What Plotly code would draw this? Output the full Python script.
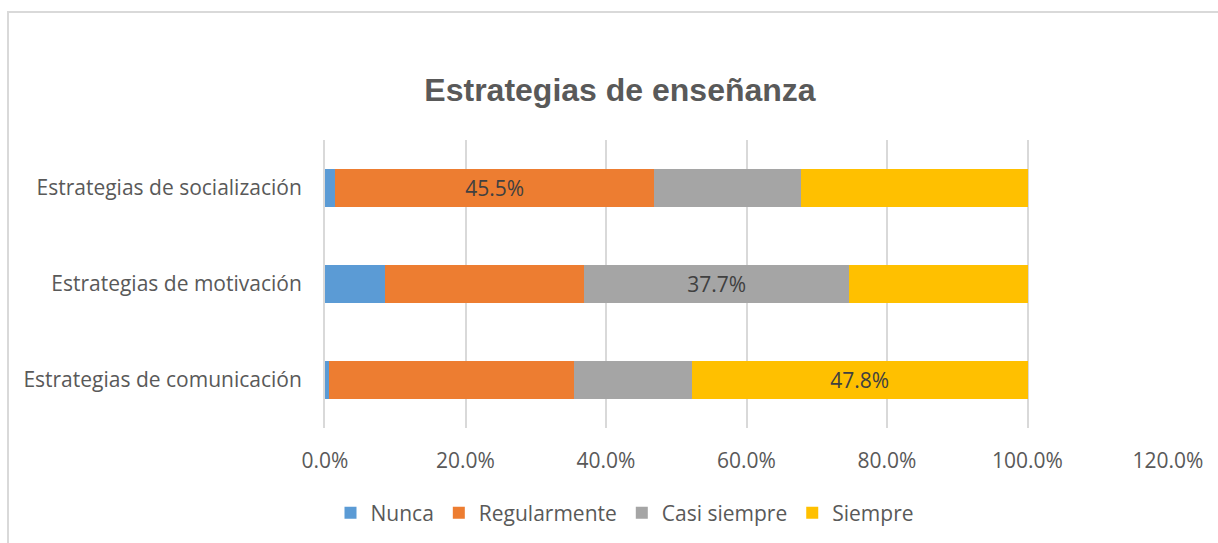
import plotly.graph_objects as go

categories = ["Estrategias de comunicación", "Estrategias de motivación", "Estrategias de socialización"]
series_names = ["Nunca", "Regularmente", "Casi siempre", "Siempre"]
nunca = [0.006, 0.086, 0.014]
regularmente = [0.349, 0.283, 0.455]
casi_siempre = [0.167, 0.377, 0.209]
siempre = [0.478, 0.254, 0.322]
colors = ["#5B9BD5", "#ED7D31", "#A5A5A5", "#FFC000"]
# which label shown per category (index of series)
label_series = [3, 2, 1]
tick_vals = [0, 0.2, 0.4, 0.6, 0.8, 1.0, 1.2]
tick_text = ["0.0%", "20.0%", "40.0%", "60.0%", "80.0%", "100.0%", "120.0%"]

all_vals = [nunca, regularmente, casi_siempre, siempre]

FS = 21

fig = go.Figure()
for si, (name, vals, col) in enumerate(zip(series_names, all_vals, colors)):
    texts = [f"{v*100:.1f}%" if label_series[ci] == si else "" for ci, v in enumerate(vals)]
    fig.add_trace(go.Bar(
        y=categories, x=vals, name=name, orientation="h",
        marker=dict(color=col, line=dict(width=0)),
        text=texts, textposition="inside", insidetextanchor="middle",
        textfont=dict(family="Open Sans", size=FS, color="#404040"),
        hoverinfo="skip",
    ))

L, R, T, B = 325, 1168, 140, 428
W, H = 1218, 543
pw, ph = R - L, B - T

fig.update_layout(
    width=W, height=H, barmode="stack", bargap=0.6,
    paper_bgcolor="white", plot_bgcolor="white",
    margin=dict(l=L, r=W - R, t=T, b=H - B, autoexpand=False),
    title=dict(text="<b>Estrategias de enseñanza</b>", x=620 / W, xanchor="center",
               y=1 - 90 / H, yanchor="middle",
               font=dict(family="Liberation Sans", size=32, color="#595959")),
    font=dict(family="Open Sans", size=FS, color="#595959"),
    xaxis=dict(range=[0, 1.2], tickvals=tick_vals, ticktext=tick_text,
               showgrid=True, gridcolor="#D9D9D9", gridwidth=1.5, zeroline=False,
               showline=False, ticks="", ticklabelstandoff=18,
               tickfont=dict(family="Open Sans", size=FS, color="#595959")),
    yaxis=dict(showline=True, linecolor="#D9D9D9", linewidth=2, ticks="",
               ticklabelstandoff=17, showgrid=False,
               tickfont=dict(family="Open Sans", size=FS, color="#595959")),
    legend=dict(orientation="h", x=625 / W, xanchor="center", xref="container",
                y=1 - 513 / H, yanchor="middle", yref="container",
                font=dict(family="Open Sans", size=FS, color="#595959"),
                itemwidth=30, traceorder="normal"),
    showlegend=True,
)

# outer chart border
fig.add_shape(type="rect", xref="paper", yref="paper",
              x0=(8 - L) / pw, x1=(W + 5 - L) / pw,
              y0=(B - (H + 5)) / ph, y1=(B - 12) / ph,
              line=dict(color="#D9D9D9", width=2), layer="below")

fig.write_html("out.html")
